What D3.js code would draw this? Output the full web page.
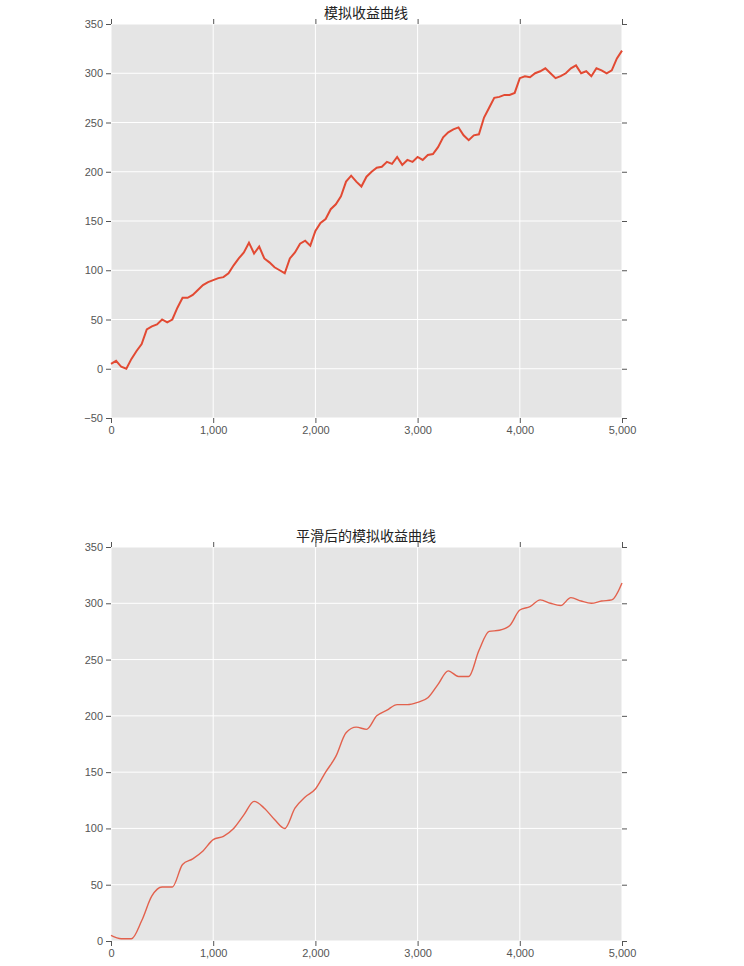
<!DOCTYPE html>
<html>
<head>
<meta charset="utf-8">
<script src="https://d3js.org/d3.v7.min.js"></script>
<style>
body { margin: 0; background: #fff; font-family: "DejaVu Sans", sans-serif; }
.tick text { fill: #555; font-size: 11px; }
.title { font-family: "Noto Sans CJK SC", sans-serif; font-size: 14px; fill: #222; }
</style>
</head>
<body>
<div id="chart"></div>
<script>
// raw equity curve, read every 50 steps
const rawSteps = d3.range(0, 5001, 50);
const rawValues = [5, 8, 2, 0, 10, 18, 25, 40, 43, 45, 50, 47, 50, 62, 72, 72, 75, 80, 85, 88,
  90, 92, 93, 97, 105, 112, 118, 128, 117, 124, 112, 108, 103, 100, 97, 112, 118, 127, 130, 125,
  140, 148, 152, 162, 167, 175, 190, 196, 190, 185, 195, 200, 204, 205, 210, 208, 215, 207, 212, 210,
  215, 212, 217, 218, 225, 235, 240, 243, 245, 237, 232, 237, 238, 255, 265, 275, 276, 278, 278, 280,
  295, 297, 296, 300, 302, 305, 300, 295, 297, 300, 305, 308, 300, 302, 297, 305, 303, 300, 303, 315, 323];

// smoothed curve, read every 100 steps
const smoothSteps = d3.range(0, 5001, 100);
const smoothValues = [5, 2, 2, 18, 40, 48, 48, 68, 73, 80, 90, 93, 100, 112, 124, 118, 108, 100, 118, 128,
  135, 150, 164, 185, 190, 188, 200, 205, 210, 210, 212, 216, 228, 240, 235, 235, 258, 275, 276, 280,
  294, 297, 303, 300, 298, 305, 302, 300, 302, 303, 318];

const xTicks = [0, 1000, 2000, 3000, 4000, 5000];

const W = 744, H = 966;
const svg = d3.select('#chart').append('svg').attr('width', W).attr('height', H);

const panels = [
  { title: '模拟收益曲线', top: 24, bottom: 418, domain: [-50, 350], steps: rawSteps, values: rawValues, width: 2, curve: d3.curveLinear, opacity: 1 },
  { title: '平滑后的模拟收益曲线', top: 547, bottom: 941, domain: [0, 350], steps: smoothSteps, values: smoothValues, width: 1.4, curve: d3.curveMonotoneX, opacity: 0.85 }
];

panels.forEach(p => {
  const x = d3.scaleLinear().domain([0, 5000]).range([111, 622]);
  const y = d3.scaleLinear().domain(p.domain).range([p.bottom, p.top]);
  const yTicks = d3.range(p.domain[0], 351, 50);

  const g = svg.append('g');
  g.append('rect').attr('x', 111).attr('y', p.top).attr('width', 511).attr('height', p.bottom - p.top).attr('fill', '#e5e5e5');

  // grid
  g.selectAll('.vg').data(xTicks).enter().append('line')
    .attr('x1', d => x(d)).attr('x2', d => x(d)).attr('y1', p.top).attr('y2', p.bottom)
    .attr('stroke', '#fff').attr('stroke-width', 1);
  g.selectAll('.hg').data(yTicks).enter().append('line')
    .attr('y1', d => y(d)).attr('y2', d => y(d)).attr('x1', 111).attr('x2', 622)
    .attr('stroke', '#fff').attr('stroke-width', 1);

  // axes
  const axes = [
    [d3.axisBottom(x).tickValues(xTicks).tickSize(5), `translate(0,${p.bottom})`, true],
    [d3.axisTop(x).tickValues(xTicks).tickSize(5), `translate(0,${p.top})`, false],
    [d3.axisLeft(y).tickValues(yTicks).tickSize(5).tickFormat(d => d < 0 ? '\u2212' + (-d) : d), 'translate(111,0)', true],
    [d3.axisRight(y).tickValues(yTicks).tickSize(5), 'translate(622,0)', false]
  ];
  axes.forEach(([ax, tr, labels]) => {
    const a = g.append('g').attr('transform', tr).call(ax);
    a.select('.domain').remove();
    a.selectAll('line').attr('stroke', '#555');
    if (!labels) a.selectAll('text').remove();
  });

  const line = d3.line().x((d, i) => x(p.steps[i])).y(d => y(d)).curve(p.curve);
  g.append('path').datum(p.values).attr('d', line)
    .attr('fill', 'none').attr('stroke', '#E24A33').attr('stroke-width', p.width).attr('opacity', p.opacity);

  g.append('text').attr('class', 'title').attr('x', 366).attr('y', p.top - 6)
    .attr('text-anchor', 'middle').text(p.title);
});
</script>
</body>
</html>
